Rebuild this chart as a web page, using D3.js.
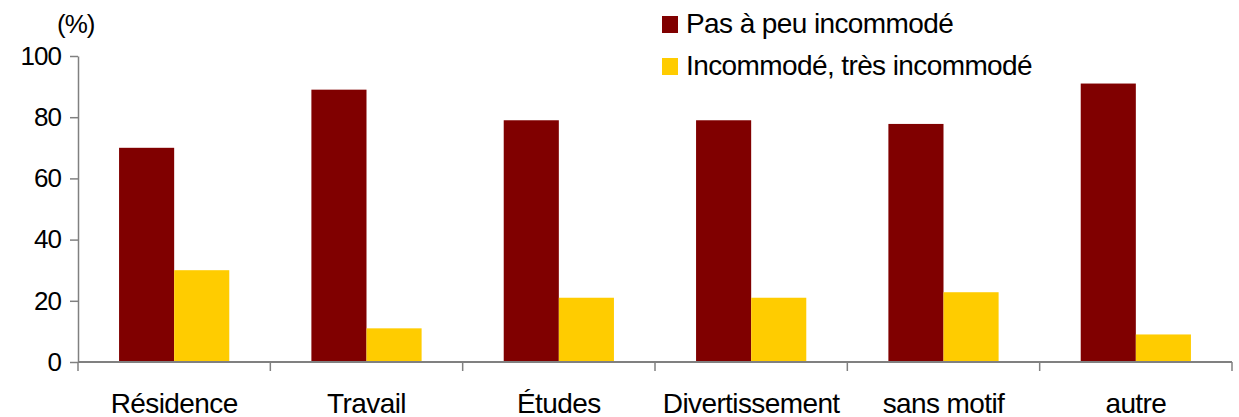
<!DOCTYPE html>
<html>
<head>
<meta charset="utf-8">
<script src="https://cdn.jsdelivr.net/npm/d3@7"></script>
<style>
  body { margin: 0; background: #fff; }
  svg text { font-family: "Liberation Sans", Arial, sans-serif; fill: #000; }
</style>
</head>
<body>
<svg id="chart" width="1239" height="417"></svg>
<script>
// Data
const categories = ["Résidence", "Travail", "Études", "Divertissement", "sans motif", "autre"];
const seriesNames = ["Pas à peu incommodé", "Incommodé, très incommodé"];
const seriesColors = ["#800000", "#ffcc00"];
const notBothered = [70, 89, 79, 79, 77.8, 91];
const bothered = [30, 11, 21, 21, 22.8, 9];
const yTicks = [0, 20, 40, 60, 80, 100];

const svg = d3.select("#chart");
const plotLeft = 78, plotRight = 1232, plotTop = 56, plotBottom = 362;
const axisColor = "#808080";
const fontSize = 28;
const spacing = "-0.6px";

const x0 = d3.scaleBand().domain(categories).range([plotLeft, plotRight]).padding(0);
const x1 = d3.scaleBand().domain(seriesNames).range([0, x0.bandwidth()])
  .paddingInner(0).paddingOuter(0.745);
const y = d3.scaleLinear().domain([0, 100]).range([plotBottom, plotTop]);

const rows = categories.map((c, i) => ({ cat: c, values: [notBothered[i], bothered[i]] }));

// Bars
const groups = svg.append("g").selectAll("g")
  .data(rows)
  .join("g")
  .attr("transform", (d) => `translate(${x0(d.cat)},0)`);

groups.selectAll("rect")
  .data((d) => d.values.map((v, k) => ({ name: seriesNames[k], v, k })))
  .join("rect")
  .attr("x", (d) => x1(d.name))
  .attr("width", x1.bandwidth())
  .attr("y", (d) => y(d.v))
  .attr("height", (d) => y(0) - y(d.v))
  .attr("fill", (d) => seriesColors[d.k]);

// Y axis
const yAxis = svg.append("g")
  .attr("transform", `translate(${plotLeft},0)`)
  .call(d3.axisLeft(y).tickValues(yTicks).tickSize(8).tickPadding(9).tickSizeOuter(0));
yAxis.select(".domain").attr("stroke", axisColor).attr("stroke-width", 1.5);
yAxis.selectAll(".tick line").attr("stroke", axisColor).attr("stroke-width", 1.5);
yAxis.selectAll(".tick text")
  .attr("font-size", fontSize - 2)
  .attr("letter-spacing", "-1px")
  .attr("font-family", "Liberation Sans, Arial, sans-serif")
  .attr("fill", "#000");

// X axis baseline + boundary ticks
svg.append("line")
  .attr("x1", plotLeft).attr("x2", plotRight)
  .attr("y1", plotBottom).attr("y2", plotBottom)
  .attr("stroke", axisColor).attr("stroke-width", 2);

const boundaries = categories.map((c) => x0(c)).concat([x0(categories[categories.length - 1]) + x0.bandwidth()]);
svg.append("g").selectAll("line")
  .data(boundaries)
  .join("line")
  .attr("x1", (d) => d).attr("x2", (d) => d)
  .attr("y1", plotBottom).attr("y2", plotBottom + 9)
  .attr("stroke", axisColor).attr("stroke-width", 1.5);

// Category labels
svg.append("g").selectAll("text")
  .data(categories)
  .join("text")
  .attr("x", (d) => x0(d) + x0.bandwidth() / 2)
  .attr("y", 413)
  .attr("text-anchor", "middle")
  .attr("font-size", fontSize)
  .attr("letter-spacing", spacing)
  .text((d) => d);

// Unit label
svg.append("text")
  .attr("x", 57).attr("y", 33)
  .attr("font-size", fontSize - 2)
  .attr("letter-spacing", "-1px")
  .text("(%)");

// Legend
const legend = svg.append("g").selectAll("g")
  .data(seriesNames)
  .join("g")
  .attr("transform", (d, i) => `translate(662,${16 + i * 42})`);
legend.append("rect")
  .attr("width", 16).attr("height", 17)
  .attr("fill", (d, i) => seriesColors[i]);
legend.append("text")
  .attr("x", 24).attr("y", 17)
  .attr("font-size", fontSize)
  .attr("letter-spacing", spacing)
  .text((d) => d);
</script>
</body>
</html>
